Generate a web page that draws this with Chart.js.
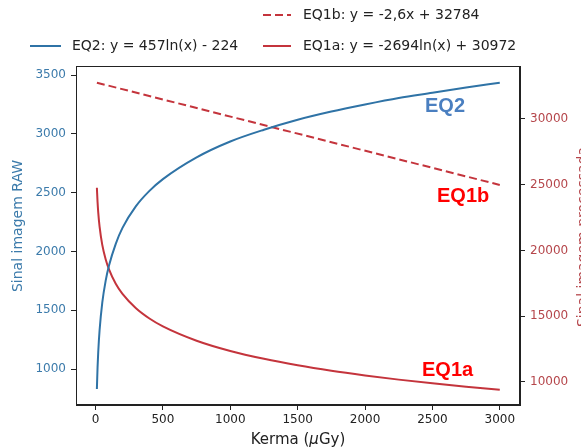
<!DOCTYPE html>
<html>
<head>
<meta charset="utf-8">
<script src="https://cdn.jsdelivr.net/npm/chart.js@4.4.1/dist/chart.umd.min.js"></script>
<style>
  html, body { margin: 0; padding: 0; background: #fff; }
  canvas { display: block; }
</style>
</head>
<body>
<canvas id="kermaChart" width="581" height="448"></canvas>
<script>
// values
const kerma = [10, 15, 20, 30, 50, 75, 100, 150, 200, 300, 400, 500, 750, 1000, 1250, 1500, 1750, 2000, 2250, 2500, 2750, 3000];
const eq2 = [830, 1015, 1145, 1330, 1565, 1750, 1880, 2065, 2200, 2385, 2515, 2615, 2800, 2935, 3035, 3120, 3190, 3250, 3305, 3350, 3395, 3435];
const eq1a = [24770, 23680, 22900, 21810, 20430, 19340, 18570, 17470, 16700, 15610, 14830, 14230, 13140, 12360, 11760, 11270, 10855, 10500, 10180, 9895, 9640, 9405];
const kermaLine = [10, 3000];
const eq1b = [32760, 24985];

const xTicks = [0, 500, 1000, 1500, 2000, 2500, 3000];
const leftTicks = [1000, 1500, 2000, 2500, 3000, 3500];
const rightTicks = [10000, 15000, 20000, 25000, 30000];

const blue = '#2f73a6';
const red = '#c4343c';
const dark = '#222';
const font = 'DejaVu Sans';

function pts(xs, ys) {
    return xs.map((x, i) => ({ x: x, y: ys[i] }));
}

// legend, frame, axis titles and the EQ labels
const decorations = {
    id: 'decorations',
    afterDraw(chart) {
        const ctx = chart.ctx;
        const a = chart.chartArea;
        ctx.save();

        ctx.strokeStyle = dark;
        ctx.lineWidth = 1;
        ctx.strokeRect(Math.round(a.left) + 0.5, Math.round(a.top) + 0.5,
            Math.round(a.right - a.left) - 1, Math.round(a.bottom - a.top) - 1);

        // legend
        ctx.lineWidth = 2;
        ctx.font = '14px "' + font + '"';
        ctx.textBaseline = 'middle';
        ctx.fillStyle = dark;

        ctx.strokeStyle = red;
        ctx.setLineDash([8, 4]);
        ctx.beginPath(); ctx.moveTo(263, 15); ctx.lineTo(291, 15); ctx.stroke();
        ctx.setLineDash([]);
        ctx.fillText('EQ1b: y = -2,6x + 32784', 303, 15);

        ctx.strokeStyle = blue;
        ctx.beginPath(); ctx.moveTo(30, 46); ctx.lineTo(61, 46); ctx.stroke();
        ctx.fillText('EQ2: y = 457ln(x) - 224', 72, 46);

        ctx.strokeStyle = red;
        ctx.beginPath(); ctx.moveTo(263, 46); ctx.lineTo(291, 46); ctx.stroke();
        ctx.fillText('EQ1a: y = -2694ln(x) + 30972', 303, 46);

        // y titles
        ctx.textAlign = 'center';
        ctx.save();
        ctx.translate(18, 226);
        ctx.rotate(-Math.PI / 2);
        ctx.fillStyle = '#3c7bab';
        ctx.fillText('Sinal imagem RAW', 0, 0);
        ctx.restore();

        ctx.save();
        ctx.translate(583, 237);
        ctx.rotate(-Math.PI / 2);
        ctx.fillStyle = '#b5464b';
        ctx.fillText('Sinal imagem processada', 0, 0);
        ctx.restore();

        // x title with italic mu
        const parts = [['Kerma (', ''], ['\u03bc', 'italic '], ['Gy)', '']];
        ctx.textAlign = 'left';
        ctx.textBaseline = 'top';
        ctx.fillStyle = dark;
        let total = 0;
        parts.forEach(p => { ctx.font = p[1] + '15px "' + font + '"'; total += ctx.measureText(p[0]).width; });
        let x = (a.left + a.right) / 2 - total / 2;
        parts.forEach(p => {
            ctx.font = p[1] + '15px "' + font + '"';
            ctx.fillText(p[0], x, 433);
            x += ctx.measureText(p[0]).width;
        });

        // EQ labels
        ctx.font = 'bold 20px "Liberation Sans"';
        ctx.textBaseline = 'middle';
        ctx.fillStyle = '#4a7fc0';
        ctx.fillText('EQ2', 425, 106);
        ctx.fillStyle = '#ff0000';
        ctx.fillText('EQ1b', 437, 196);
        ctx.fillText('EQ1a', 422, 370);

        ctx.restore();
    }
};

const lineStyle = {
    showLine: true,
    pointRadius: 0,
    borderWidth: 2,
    fill: false
};

const plain = v => String(v);

const chartCtx = document.getElementById('kermaChart').getContext('2d');
const kermaChart = new Chart(chartCtx, {
    type: 'scatter',
    data: {
        datasets: [
            Object.assign({
                label: 'EQ2: y = 457ln(x) - 224',
                data: pts(kerma, eq2),
                borderColor: blue,
                cubicInterpolationMode: 'monotone',
                yAxisID: 'y'
            }, lineStyle),
            Object.assign({
                label: 'EQ1b: y = -2,6x + 32784',
                data: pts(kermaLine, eq1b),
                borderColor: red,
                borderDash: [8, 4],
                yAxisID: 'y1'
            }, lineStyle),
            Object.assign({
                label: 'EQ1a: y = -2694ln(x) + 30972',
                data: pts(kerma, eq1a),
                borderColor: red,
                cubicInterpolationMode: 'monotone',
                yAxisID: 'y1'
            }, lineStyle)
        ]
    },
    options: {
        responsive: false,
        animation: false,
        devicePixelRatio: 1,
        layout: { padding: { top: 66, left: 0, right: 0, bottom: 0 } },
        plugins: {
            legend: { display: false },
            tooltip: { enabled: false }
        },
        scales: {
            x: {
                type: 'linear',
                min: -145,
                max: 3150,
                afterBuildTicks: s => { s.ticks = xTicks.map(v => ({ value: v })); },
                afterFit: s => { s.height = 43; },
                ticks: { color: dark, font: { family: font, size: 12 }, padding: 3, maxRotation: 0, callback: plain },
                grid: { drawOnChartArea: false, tickLength: 5, color: dark },
                border: { color: dark }
            },
            y: {
                position: 'left',
                min: 694,
                max: 3577,
                afterBuildTicks: s => { s.ticks = leftTicks.map(v => ({ value: v })); },
                afterFit: s => { s.width = 76; },
                ticks: { color: '#3c7bab', font: { family: font, size: 12 }, padding: 5, callback: plain },
                grid: { drawOnChartArea: false, tickLength: 5, color: dark },
                border: { color: dark }
            },
            y1: {
                position: 'right',
                min: 8250,
                max: 34030,
                afterBuildTicks: s => { s.ticks = rightTicks.map(v => ({ value: v })); },
                afterFit: s => { s.width = 61; },
                ticks: { color: '#b5464b', font: { family: font, size: 12 }, padding: 5, callback: plain },
                grid: { drawOnChartArea: false, tickLength: 5, color: dark },
                border: { color: dark }
            }
        }
    },
    plugins: [decorations]
});
</script>
</body>
</html>
